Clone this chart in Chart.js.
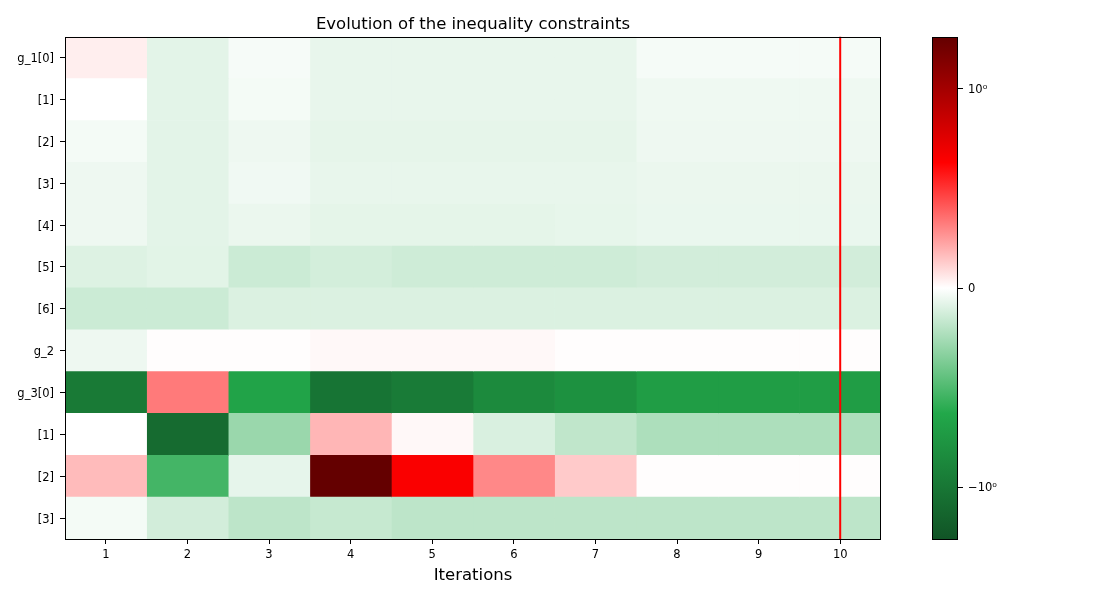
<!DOCTYPE html>
<html>
<head>
<meta charset="utf-8">
<script src="https://cdn.jsdelivr.net/npm/chart.js@4"></script>
<style>
  body { margin: 0; background: #fff; }
  #main { position: absolute; left: 0; top: 0; width: 900px; height: 600px; }
  #cbar { position: absolute; left: 900px; top: 0; width: 200px; height: 600px; }
</style>
</head>
<body>
<div id="main"><canvas id="heatmap"></canvas></div>
<div id="cbar"><canvas id="colorbar"></canvas></div>
<script>
// Iterations along x, constraints along y
const iterations = [1, 2, 3, 4, 5, 6, 7, 8, 9, 10];
const rowLabels = ['g_1[0]', '[1]', '[2]', '[3]', '[4]', '[5]', '[6]', 'g_2', 'g_3[0]', '[1]', '[2]', '[3]'];

// constraint values per iteration
const g1_0 = [0.042, -0.080, -0.026, -0.066, -0.066, -0.066, -0.066, -0.029, -0.029, -0.029];
const g1_1 = [-0.001, -0.080, -0.030, -0.066, -0.066, -0.066, -0.066, -0.046, -0.046, -0.046];
const g1_2 = [-0.030, -0.080, -0.048, -0.072, -0.072, -0.072, -0.072, -0.048, -0.048, -0.048];
const g1_3 = [-0.048, -0.080, -0.042, -0.066, -0.066, -0.066, -0.066, -0.058, -0.058, -0.058];
const g1_4 = [-0.048, -0.080, -0.058, -0.075, -0.075, -0.075, -0.068, -0.060, -0.060, -0.060];
const g1_5 = [-0.097, -0.083, -0.148, -0.125, -0.140, -0.140, -0.140, -0.128, -0.128, -0.128];
const g1_6 = [-0.148, -0.148, -0.103, -0.103, -0.103, -0.103, -0.103, -0.103, -0.103, -0.103];
const g2   = [-0.048, 0.004, 0.004, 0.017, 0.017, 0.017, 0.005, 0.005, 0.005, 0.005];
const g3_0 = [-0.977, 0.328, -0.668, -1.057, -0.970, -0.856, -0.800, -0.710, -0.710, -0.710];
const g3_1 = [0.001, -1.250, -0.288, 0.180, 0.017, -0.108, -0.180, -0.234, -0.234, -0.234];
const g3_2 = [0.168, -0.533, -0.071, 1.950, 0.650, 0.294, 0.131, 0.004, 0.004, 0.004];
const g3_3 = [-0.030, -0.128, -0.188, -0.163, -0.188, -0.188, -0.188, -0.188, -0.188, -0.188];
const rows = [g1_0, g1_1, g1_2, g1_3, g1_4, g1_5, g1_6, g2, g3_0, g3_1, g3_2, g3_3];

const currentIteration = 10;

// colorbar
const cbarTickValues = [-1, 0, 1];
const cbarTickLabels = ['\u221210\u2070', '0', '10\u2070'];

// symlog norm + colormap
const linThresh = 1;
const linScale = 1;
const vLimit = 1.95;
const cmapStops = [0, 0.25, 0.5, 0.75, 1];
const cmapColors = ['#115426', '#22a84a', '#ffffff', '#ff0000', '#640000'];

function symlog(v) {
    const adj = linScale / (1 - 1 / 10);
    const a = Math.abs(v);
    if (a <= linThresh) return v * adj;
    return Math.sign(v) * linThresh * (adj + Math.log10(a / linThresh));
}

function norm(v) {
    const f = 0.5 + 0.5 * symlog(v) / symlog(vLimit);
    return Math.min(1, Math.max(0, f));
}

function hexRgb(h) {
    return [1, 3, 5].map(i => parseInt(h.slice(i, i + 2), 16));
}

function cmap(f) {
    let i = 0;
    while (i < cmapStops.length - 2 && f > cmapStops[i + 1]) i++;
    const t = (f - cmapStops[i]) / (cmapStops[i + 1] - cmapStops[i]);
    const a = hexRgb(cmapColors[i]);
    const b = hexRgb(cmapColors[i + 1]);
    const c = a.map((x, k) => Math.round(x + (b[k] - x) * t));
    return `rgb(${c[0]},${c[1]},${c[2]})`;
}

const FONT = 'DejaVu Sans';

// black frame round the plot area
const framePlugin = {
    id: 'frame',
    afterDraw(chart) {
        const { ctx, chartArea: a } = chart;
        ctx.save();
        ctx.strokeStyle = '#000';
        ctx.lineWidth = 1;
        ctx.strokeRect(Math.round(a.left) + 0.5, Math.round(a.top) + 0.5,
            Math.round(a.right - a.left) - 1, Math.round(a.bottom - a.top));
        ctx.restore();
    }
};

// red marker line at the current iteration
const markerPlugin = {
    id: 'marker',
    afterDatasetsDraw(chart) {
        const { ctx, chartArea: a } = chart;
        const x = chart.scales.x.getPixelForValue(currentIteration);
        ctx.save();
        ctx.strokeStyle = '#ff0000';
        ctx.lineWidth = 2;
        ctx.beginPath();
        ctx.moveTo(x, a.top);
        ctx.lineTo(x, a.bottom);
        ctx.stroke();
        ctx.restore();
    }
};

const datasets = iterations.map((it, c) => ({
    data: rows.map(() => [it - 0.5, it + 0.5]),
    backgroundColor: rows.map(r => cmap(norm(r[c]))),
    borderWidth: 0,
    barPercentage: 1,
    categoryPercentage: 1,
    grouped: false
}));

new Chart(document.getElementById('heatmap'), {
    type: 'bar',
    data: { labels: rowLabels, datasets: datasets },
    options: {
        indexAxis: 'y',
        responsive: true,
        maintainAspectRatio: false,
        animation: false,
        layout: { padding: { left: 0, right: 19, top: 0, bottom: 0 } },
        plugins: {
            legend: { display: false },
            tooltip: { enabled: false },
            title: {
                display: true,
                fullSize: false,
                text: 'Evolution of the inequality constraints',
                color: '#000',
                font: { family: FONT, size: 16.5, weight: 'normal' },
                padding: { top: 15, bottom: 2 }
            }
        },
        scales: {
            x: {
                type: 'linear',
                min: 0.5,
                max: 10.5,
                afterBuildTicks: scale => { scale.ticks = iterations.map(v => ({ value: v })); },
                afterFit: scale => { scale.height = 61; },
                ticks: { color: '#000', font: { family: FONT, size: 11.5 }, padding: 4 },
                grid: { drawOnChartArea: false, tickColor: '#000', tickLength: 5 },
                border: { display: false },
                title: {
                    display: true,
                    text: 'Iterations',
                    color: '#000',
                    font: { family: FONT, size: 16.5 },
                    padding: { top: 0, bottom: 14 }
                }
            },
            y: {
                z: 1,
                afterFit: scale => { scale.width = 65; },
                ticks: { color: '#000', font: { family: FONT, size: 11.5 }, padding: 6, labelOffset: 1.5 },
                grid: { offset: false, color: 'rgba(176,196,222,0.25)', tickColor: '#000', tickLength: 5 },
                border: { display: false }
            }
        }
    },
    plugins: [markerPlugin, framePlugin]
});

new Chart(document.getElementById('colorbar'), {
    type: 'bar',
    data: {
        labels: [''],
        datasets: [{
            data: [[norm(-vLimit), norm(vLimit)]],
            borderWidth: 0,
            barPercentage: 1,
            categoryPercentage: 1,
            backgroundColor: ctx => {
                const a = ctx.chart.chartArea;
                if (!a) return '#fff';
                const g = ctx.chart.ctx.createLinearGradient(0, a.bottom, 0, a.top);
                cmapStops.forEach((s, i) => g.addColorStop(s, cmapColors[i]));
                return g;
            }
        }]
    },
    options: {
        responsive: true,
        maintainAspectRatio: false,
        animation: false,
        layout: { padding: { left: 32, right: 82, top: 37, bottom: 61 } },
        plugins: { legend: { display: false }, tooltip: { enabled: false } },
        scales: {
            x: { display: false },
            y: {
                position: 'right',
                min: 0,
                max: 1,
                afterBuildTicks: scale => { scale.ticks = cbarTickValues.map(v => ({ value: norm(v) })); },
                afterFit: scale => { scale.width = 60; },
                ticks: {
                    color: '#000',
                    font: { family: FONT, size: 11.5 },
                    padding: 5,
                    labelOffset: 1,
                    callback: (val, i) => cbarTickLabels[i]
                },
                grid: { drawOnChartArea: false, tickColor: '#000', tickLength: 5 },
                border: { display: false }
            }
        }
    },
    plugins: [framePlugin]
});
</script>
</body>
</html>
